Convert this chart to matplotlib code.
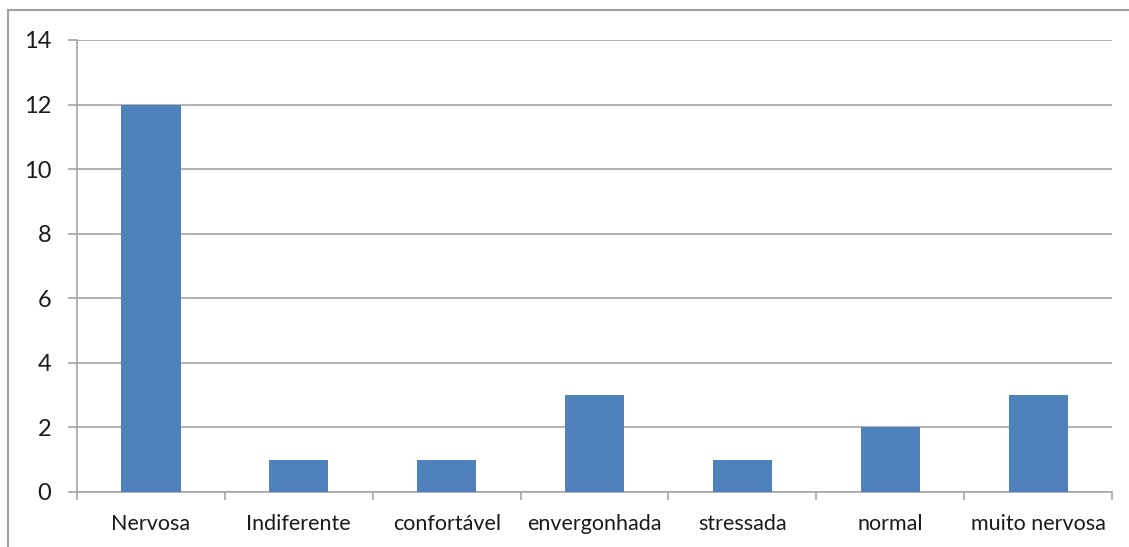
import numpy as np
import matplotlib
matplotlib.use("Agg")
import matplotlib.pyplot as plt
from matplotlib.lines import Line2D

categories = ["Nervosa", "Indiferente", "confortável", "envergonhada",
              "stressada", "normal", "muito nervosa"]
counts = [12, 1, 1, 3, 1, 2, 3]
y_ticks = [0, 2, 4, 6, 8, 10, 12, 14]

plt.rcParams["font.family"] = ["Lato", "DejaVu Sans"]

W, H = 1129, 547
fig = plt.figure(figsize=(W / 100, H / 100), dpi=100)
ax = fig.add_axes([77 / W, 1 - 492 / H, (1112 - 77) / W, (492 - 40) / H])

x = np.arange(len(categories))
ax.bar(x, counts, width=0.4, color="#4F81BD", zorder=3)

ax.set_xlim(-0.5, len(categories) - 0.5)
ax.set_ylim(0, 14)
ax.set_yticks(y_ticks)
ax.set_yticklabels([str(v) for v in y_ticks])
ax.yaxis.grid(True, color="#A6A6A6", linewidth=1.2, zorder=0)

# category boundaries get the x tick marks, labels sit in the middle
ax.set_xticks(np.arange(len(categories) + 1) - 0.5)
ax.set_xticklabels([])
ax.set_xticks(x, minor=True)
ax.set_xticklabels(categories, minor=True)
ax.tick_params(axis="x", which="major", direction="out", length=6,
               color="#A6A6A6", width=1.2)
ax.tick_params(axis="x", which="minor", length=0, pad=16, labelsize=15.5,
               labelcolor="#1a1a1a")
ax.tick_params(axis="y", direction="out", length=6.5, color="#A6A6A6",
               width=1.2, pad=12, labelsize=17, labelcolor="#1a1a1a")

for side in ("top", "right"):
    ax.spines[side].set_visible(False)
for side in ("left", "bottom"):
    ax.spines[side].set_color("#A6A6A6")
    ax.spines[side].set_linewidth(1.2)

# outer chart frame (left and top edges)
fig.add_artist(Line2D([7.5 / W, 7.5 / W], [0, 1 - 10 / H],
                      transform=fig.transFigure, color="#A0A0A0", lw=1.5))
fig.add_artist(Line2D([7.5 / W, 1], [1 - 10 / H, 1 - 10 / H],
                      transform=fig.transFigure, color="#A0A0A0", lw=1.5))

fig.savefig("out.png", dpi=100)
